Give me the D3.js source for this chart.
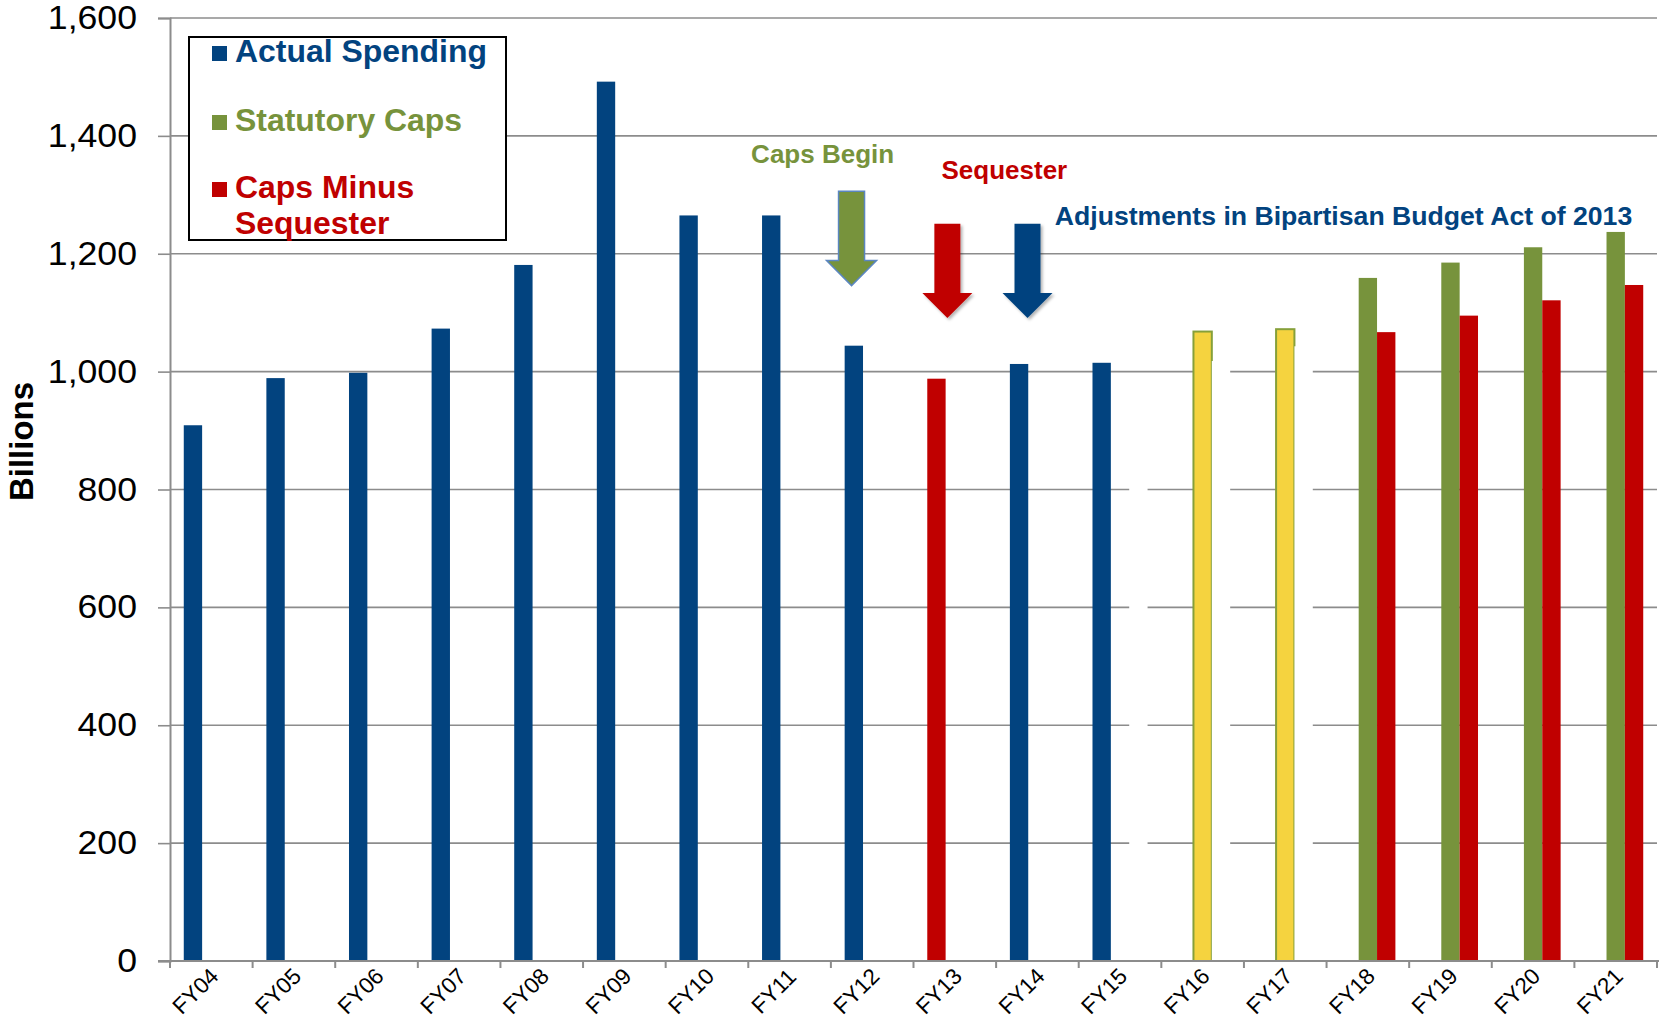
<!DOCTYPE html>
<html>
<head>
<meta charset="utf-8">
<script src="https://cdn.jsdelivr.net/npm/d3@7"></script>
<style>
  html, body { margin: 0; padding: 0; background: #ffffff; }
  svg { display: block; font-family: "Liberation Sans", Arial, sans-serif; }
</style>
</head>
<body>
<svg id="chart" width="1663" height="1023"></svg>
<script>
// data (billions)
const categories = ["FY04","FY05","FY06","FY07","FY08","FY09","FY10","FY11","FY12",
                    "FY13","FY14","FY15","FY16","FY17","FY18","FY19","FY20","FY21"];
const actualSpending = [909, 989, 998, 1073, 1181, 1492, 1265, 1265, 1044,
                        988, 1013, 1015, null, null, null, null, null, null];
const statutoryCaps = [null, null, null, null, null, null, null, null, null,
                       null, null, null, 1068, 1072, 1159, 1185, 1211, 1237];
const capsMinusSequester = [null, null, null, null, null, null, null, null, null,
                            null, null, null, null, null, 1067, 1095, 1121, 1147];
// blank (white) bars sitting in the third slot in the original
const blankSeries = [null, null, null, null, null, null, null, null, null,
                     null, null, 950, 1018, 1043, null, null, null, null];
const yTicks = [0, 200, 400, 600, 800, 1000, 1200, 1400, 1600];
const sequesterYears = ["FY13"];
const bbaYears = ["FY16", "FY17"];

const blue = "#02437f";
const green = "#77933c";
const red = "#c00000";
const yellow = "#f5d33f";
const gridColor = "#8c8c8c";

const width = 1663, height = 1023;
const margin = {top: 18, right: 6, bottom: 62, left: 170};

const svg = d3.select("#chart");

const x = d3.scaleBand()
  .domain(categories)
  .range([margin.left, width - margin.right])
  .paddingInner(0).paddingOuter(0);

const slot = d3.scaleBand()
  .domain(["actual", "caps", "seq"])
  .range([0, x.bandwidth()])
  .paddingInner(0).paddingOuter(0.75);

const y = d3.scaleLinear()
  .domain([0, 1600])
  .range([height - margin.bottom, margin.top]);

// the original text is a bit wider than the font
function stretch(sel, k)
{
  sel.each(function(d) {
    const f = (d && d.stretch) ? d.stretch : k;
    const w = this.getComputedTextLength();
    d3.select(this).attr("textLength", w * f).attr("lengthAdjust", "spacingAndGlyphs");
  });
}

const defs = svg.append("defs");
defs.append("filter").attr("id", "shadow")
  .attr("x", "-30%").attr("y", "-30%").attr("width", "160%").attr("height", "160%")
  .append("feDropShadow")
  .attr("dx", 2).attr("dy", 2).attr("stdDeviation", 1.5)
  .attr("flood-color", "#000").attr("flood-opacity", 0.3);

// gridlines
svg.append("g")
  .selectAll("line")
  .data(yTicks.filter(d => d > 0))
  .join("line")
  .attr("x1", margin.left)
  .attr("x2", width - margin.right)
  .attr("y1", d => y(d))
  .attr("y2", d => y(d))
  .attr("stroke", gridColor)
  .attr("stroke-width", 1.6);

function series(values, key)
{
  return categories.map((c, i) => ({cat: c, value: values[i], key: key}))
    .filter(d => d.value != null);
}

// actual spending
svg.append("g")
  .selectAll("rect")
  .data(series(actualSpending, "actual"))
  .join("rect")
  .attr("x", d => x(d.cat) + slot("actual"))
  .attr("y", d => y(d.value))
  .attr("width", slot.bandwidth())
  .attr("height", d => y(0) - y(d.value))
  .attr("fill", d => sequesterYears.includes(d.cat) ? red : blue);

// statutory caps
svg.append("g")
  .selectAll("rect")
  .data(series(statutoryCaps, "caps"))
  .join("rect")
  .attr("x", d => x(d.cat) + slot("caps"))
  .attr("y", d => y(d.value))
  .attr("width", slot.bandwidth())
  .attr("height", d => y(0) - y(d.value))
  .attr("fill", d => bbaYears.includes(d.cat) ? yellow : green)
  .attr("stroke", d => bbaYears.includes(d.cat) ? "#86a03a" : "none")
  .attr("stroke-width", 2);

// blank bars
svg.append("g")
  .selectAll("rect")
  .data(series(blankSeries, "seq"))
  .join("rect")
  .attr("x", d => x(d.cat) + slot("seq"))
  .attr("y", d => y(d.value))
  .attr("width", slot.bandwidth())
  .attr("height", d => y(0) - y(d.value) - 1)
  .attr("fill", "#ffffff");

// caps minus sequester
svg.append("g")
  .selectAll("rect")
  .data(series(capsMinusSequester, "seq"))
  .join("rect")
  .attr("x", d => x(d.cat) + slot("seq"))
  .attr("y", d => y(d.value))
  .attr("width", slot.bandwidth())
  .attr("height", d => y(0) - y(d.value))
  .attr("fill", red);

// y axis
const yAxis = svg.append("g")
  .attr("transform", `translate(${margin.left},0)`)
  .call(d3.axisLeft(y).tickValues(yTicks).tickFormat(d3.format(",")).tickSize(12).tickPadding(21));
yAxis.select(".domain").attr("stroke", gridColor).attr("stroke-width", 2);
yAxis.selectAll(".tick line").attr("stroke", gridColor).attr("stroke-width", 1.6);
yAxis.selectAll(".tick text")
  .attr("font-size", 33)
  .attr("font-family", "Liberation Sans, Arial, sans-serif")
  .attr("fill", "#000")
  .call(stretch, 1.08);

// x axis
const xAxis = svg.append("g");
xAxis.append("line")
  .attr("x1", margin.left - 12)
  .attr("x2", width - margin.right + 2)
  .attr("y1", y(0)).attr("y2", y(0))
  .attr("stroke", gridColor).attr("stroke-width", 2);
xAxis.selectAll("line.tk")
  .data(categories.map(c => x(c)).concat([x.range()[1]]))
  .join("line")
  .attr("class", "tk")
  .attr("x1", d => d).attr("x2", d => d)
  .attr("y1", y(0)).attr("y2", y(0) + 7)
  .attr("stroke", gridColor).attr("stroke-width", 2);
xAxis.selectAll("text")
  .data(categories)
  .join("text")
  .attr("transform", d => `translate(${x(d) + x.bandwidth() / 2 - 16},${y(0) + 30}) rotate(-45)`)
  .attr("text-anchor", "middle")
  .attr("dy", "0.35em")
  .attr("font-size", 22.5)
  .attr("fill", "#000")
  .text(d => d);

// y axis title
svg.append("text")
  .attr("transform", `translate(33,${(y(0) + y(1600)) / 2 - 48}) rotate(-90)`)
  .attr("text-anchor", "middle")
  .attr("font-size", 33)
  .attr("font-weight", "bold")
  .text("Billions");

// legend
const legendItems = [
  {label: ["Actual Spending"], color: blue, y: 62},
  {label: ["Statutory Caps"], color: green, y: 131},
  {label: ["Caps Minus", "Sequester"], color: red, y: 198}
];
const legend = svg.append("g");
legend.append("rect")
  .attr("x", 189).attr("y", 37)
  .attr("width", 317).attr("height", 203)
  .attr("fill", "#fff").attr("stroke", "#000").attr("stroke-width", 2);
legendItems.forEach(item => {
  legend.append("rect")
    .attr("x", 212).attr("y", item.y - 16)
    .attr("width", 15).attr("height", 15)
    .attr("fill", item.color);
  item.label.forEach((line, i) => {
    legend.append("text")
      .attr("x", 235).attr("y", item.y + i * 36)
      .attr("font-size", 31).attr("font-weight", "bold")
      .attr("fill", item.color)
      .text(line)
      .call(stretch, 1.03);
  });
});

// arrows
const arrows = [
  {cat: "FY12", at: 0.25, top: 1306, tip: 1146, fill: green, stroke: "#5b86c0", shadow: false},
  {cat: "FY13", at: 0.41, top: 1251, tip: 1091, fill: red, stroke: "none", shadow: true},
  {cat: "FY14", at: 0.38, top: 1251, tip: 1091, fill: blue, stroke: "none", shadow: true}
];
function arrowPath(cx, yTop, yTip)
{
  const sw = 13, hw = 25, hl = 25;
  const p = d3.path();
  p.moveTo(cx - sw, yTop);
  p.lineTo(cx + sw, yTop);
  p.lineTo(cx + sw, yTip - hl);
  p.lineTo(cx + hw, yTip - hl);
  p.lineTo(cx, yTip);
  p.lineTo(cx - hw, yTip - hl);
  p.lineTo(cx - sw, yTip - hl);
  p.closePath();
  return p.toString();
}
svg.append("g")
  .selectAll("path")
  .data(arrows)
  .join("path")
  .attr("d", d => arrowPath(x(d.cat) + d.at * x.bandwidth(), y(d.top), y(d.tip)))
  .attr("fill", d => d.fill)
  .attr("stroke", d => d.stroke)
  .attr("stroke-width", 1.5)
  .attr("filter", d => d.shadow ? "url(#shadow)" : null);

// annotation labels
const notes = [
  {text: "Caps Begin", cat: "FY12", at: -0.1, value: 1354, color: green, anchor: "middle", stretch: 1.04},
  {text: "Sequester", cat: "FY13", at: 1.1, value: 1327, color: red, anchor: "middle", stretch: 1.04},
  {text: "Adjustments in Bipartisan Budget Act of 2013", cat: "FY15", at: -0.29, value: 1248, color: blue, anchor: "start", stretch: 1.065}
];
svg.append("g")
  .selectAll("text")
  .data(notes)
  .join("text")
  .attr("x", d => x(d.cat) + d.at * x.bandwidth())
  .attr("y", d => y(d.value))
  .attr("text-anchor", d => d.anchor)
  .attr("font-size", 25)
  .attr("font-weight", "bold")
  .attr("fill", d => d.color)
  .text(d => d.text)
  .call(stretch, 1.04);
</script>
</body>
</html>
